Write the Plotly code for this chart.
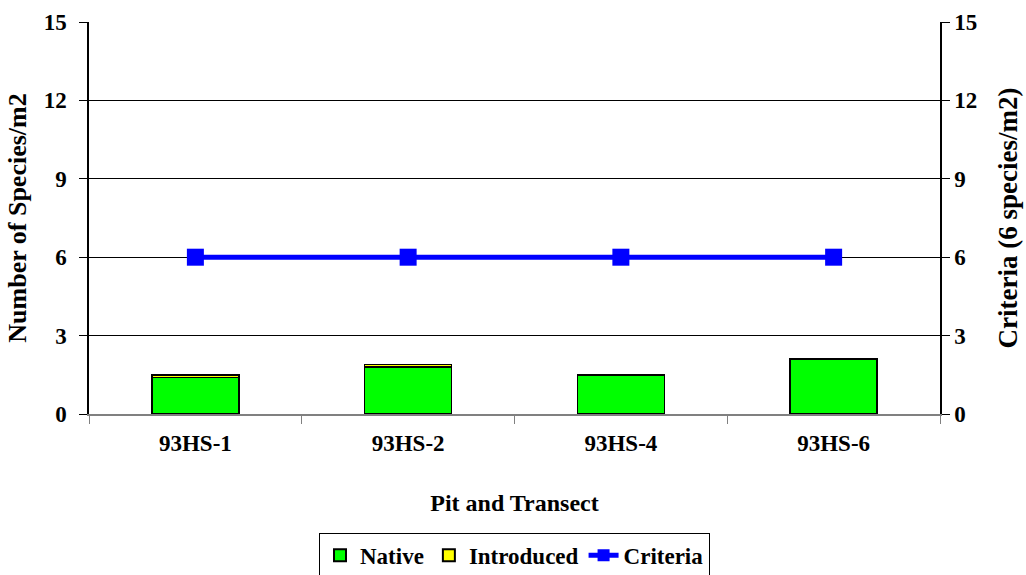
import plotly.graph_objects as go

categories = ["93HS-1", "93HS-2", "93HS-4", "93HS-6"]
native = [1.4, 1.8, 1.5, 2.1]
introduced = [0.1, 0.1, 0.0, 0.0]
criteria = [6, 6, 6, 6]
y_ticks = [0, 3, 6, 9, 12, 15]

FONT = "Liberation Serif"
tickfont = dict(family=FONT, size=23, color="black", weight="bold")

fig = go.Figure()
fig.add_trace(go.Bar(
    x=categories, y=native, name="Native",
    marker=dict(color="#00FF00", line=dict(color="black", width=1.5)),
))
fig.add_trace(go.Bar(
    x=categories, y=introduced, name="Introduced",
    marker=dict(color="#FFFF00", line=dict(color="black", width=1.5)),
))
fig.add_trace(go.Scatter(
    x=categories, y=criteria, name="Criteria", yaxis="y2",
    mode="lines+markers",
    line=dict(color="#0000FF", width=5),
    marker=dict(symbol="square", size=17, color="#0000FF"),
))

fig.update_layout(
    width=1026, height=575,
    barmode="stack", bargap=0.59,
    plot_bgcolor="white", paper_bgcolor="white",
    margin=dict(l=89, r=86, t=22, b=161, autoexpand=False),
    font=dict(family=FONT, color="black"),
    showlegend=True,
    legend=dict(
        orientation="h", x=0.5, xanchor="center", y=-0.303, yanchor="top",
        xref="paper", yref="paper",
        bordercolor="black", borderwidth=1,
        font=dict(family=FONT, size=23, color="black", weight="bold"),
        itemsizing="constant", traceorder="normal",
    ),
    xaxis=dict(
        title=dict(text="Pit and Transect",
                   font=dict(family=FONT, size=24, color="black", weight="bold"), standoff=39),
        tickfont=tickfont, automargin=False, ticklabelstandoff=8,
        showline=True, linecolor="#808080", linewidth=1.5,
        ticks="outside", tickson="boundaries", ticklen=8, tickcolor="#808080",
        showgrid=False,
    ),
    yaxis=dict(
        title=dict(text="Number of Species/m2",
                   font=dict(family=FONT, size=26, color="black", weight="bold"), standoff=10),
        range=[0, 15], tickvals=y_ticks, tickfont=tickfont, automargin=False,
        ticklabelstandoff=8,
        showline=True, linecolor="black", linewidth=1.5,
        ticks="outside", ticklen=8, tickcolor="black",
        showgrid=True, gridcolor="black", gridwidth=1,
        zeroline=False,
    ),
    yaxis2=dict(
        title=dict(text="Criteria (6 species/m2)",
                   font=dict(family=FONT, size=27, color="black", weight="bold"), standoff=22),
        range=[0, 15], tickvals=y_ticks, tickfont=tickfont, automargin=False,
        overlaying="y", side="right",
        showline=True, linecolor="black", linewidth=1.5,
        ticks="outside", ticklen=8, tickcolor="black",
        showgrid=False, zeroline=False,
    ),
)

fig.write_html("out.html", config={"displayModeBar": False},
               post_script="document.body.style.margin='0';")
